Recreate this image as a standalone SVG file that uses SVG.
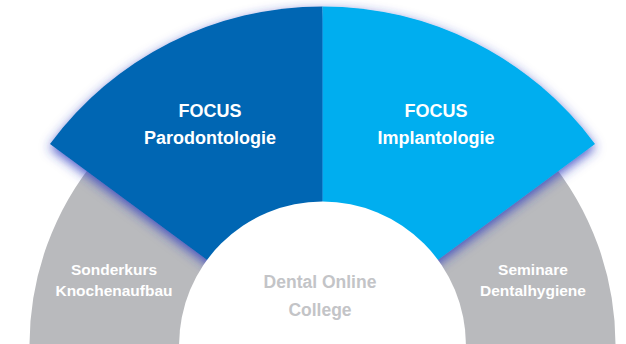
<svg xmlns="http://www.w3.org/2000/svg" width="626" height="344" viewBox="0 0 626 344">
  <defs>
    <filter id="glow" x="-20%" y="-20%" width="140%" height="140%">
      <feDropShadow dx="0" dy="4" stdDeviation="6" flood-color="#2a3ac0" flood-opacity="0.85"/>
    </filter>
    <style>
      .lbl { font-family: "Liberation Sans", Arial, sans-serif; font-weight: bold; text-anchor: middle; }
      .main { font-size: 18px; fill: #ffffff; }
      .side { font-size: 15.5px; fill: #ffffff; }
      .core { font-size: 17.5px; fill: #c3c4c7; }
      .gray { fill: #b9babd; }
    </style>
  </defs>
  <rect width="626" height="344" fill="#ffffff"/>

  <g id="node-sonderkurs">
    <path class="gray" d="M322.5,350 L29.5,350 L29.5,345 A293,293 0 0 1 98.05,156.66 Z"/>
    <text class="lbl side" x="114" y="274.5">Sonderkurs</text>
    <text class="lbl side" x="114" y="295.5">Knochenaufbau</text>
  </g>

  <g id="node-seminare">
    <path class="gray" d="M322.5,350 L615.5,350 L615.5,345 A293,293 0 0 0 546.95,156.66 Z"/>
    <text class="lbl side" x="533" y="274.5">Seminare</text>
    <text class="lbl side" x="533" y="295.5">Dentalhygiene</text>
  </g>

  <g filter="url(#glow)">
    <g id="node-parodontologie">
      <path fill="#0066b3" d="M322.5,345 L50,144 A338.6,338.6 0 0 1 322.5,6.4 Z"/>
    </g>
    <g id="node-implantologie">
      <path fill="#00aeef" d="M322.5,345 L322.5,6.4 A338.6,338.6 0 0 1 595,144 Z"/>
    </g>
  </g>
  <text class="lbl main" x="210" y="116.5">FOCUS</text>
  <text class="lbl main" x="210" y="144">Parodontologie</text>
  <text class="lbl main" x="436" y="116.5">FOCUS</text>
  <text class="lbl main" x="436" y="144">Implantologie</text>

  <g id="node-college">
    <circle cx="322.5" cy="345" r="143.4" fill="#ffffff"/>
    <text class="lbl core" x="320" y="288">Dental Online</text>
    <text class="lbl core" x="320" y="316">College</text>
  </g>

  <g id="connectors"/>
</svg>
